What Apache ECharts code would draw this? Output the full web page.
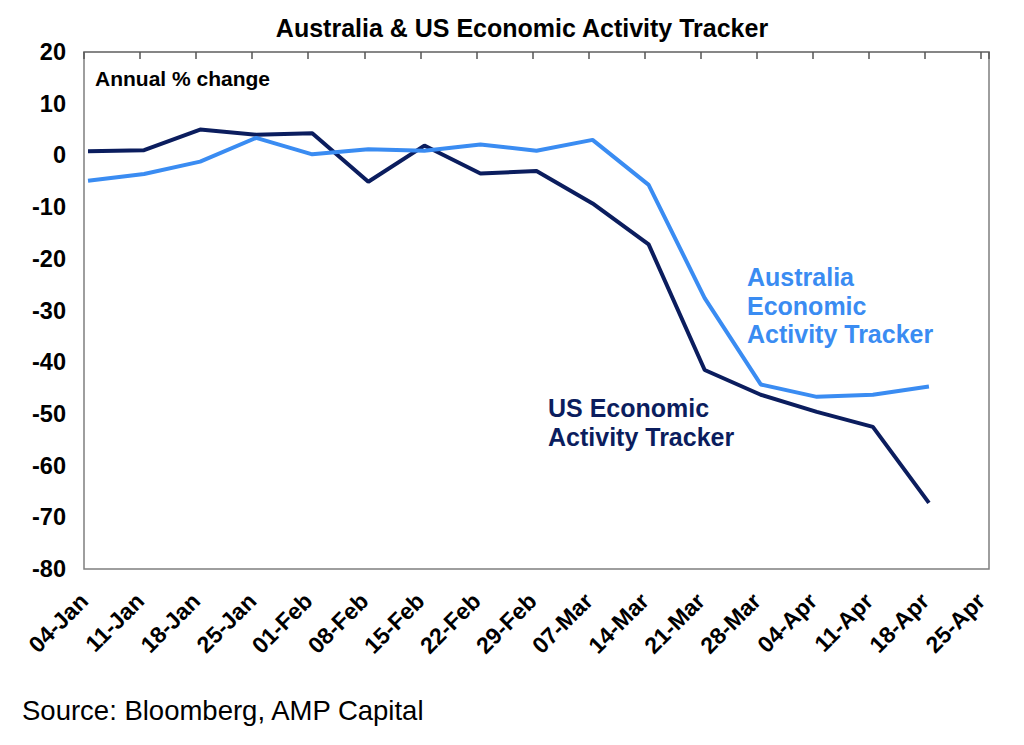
<!DOCTYPE html>
<html><head><meta charset="utf-8">
<script src="https://cdn.jsdelivr.net/npm/echarts@6/dist/echarts.min.js"></script>
<style>html,body{margin:0;padding:0;background:#fff}#c{width:1024px;height:745px}</style>
</head><body><div id="c"></div>
<script>
const tickLabels = ['04-Jan','11-Jan','18-Jan','25-Jan','01-Feb','08-Feb','15-Feb','22-Feb','29-Feb','07-Mar','14-Mar','21-Mar','28-Mar','04-Apr','11-Apr','18-Apr','25-Apr'];
const dates = ['2020-01-04','2020-01-11','2020-01-18','2020-01-25','2020-02-01','2020-02-08','2020-02-15','2020-02-22','2020-02-29','2020-03-07','2020-03-14','2020-03-21','2020-03-28','2020-04-04','2020-04-11','2020-04-18'];
const usValues = [0.8, 1.0, 5.0, 4.0, 4.3, -5.1, 1.9, -3.5, -3.0, -9.3, -17.2, -41.5, -46.3, -49.6, -52.5, -67.2];
const auValues = [-4.9, -3.6, -1.2, 3.4, 0.2, 1.2, 0.9, 2.1, 0.9, 3.0, -5.7, -27.6, -44.3, -46.7, -46.3, -44.7];
const yTicks = { min: -80, max: 20, step: 10 };
const axisStart = '2020-01-04';
const axisEnd = '2020-04-26';

const DAY = 86400000;
function dayOffset(d) { return (Date.parse(d) - Date.parse(axisStart)) / DAY; }
// Excel-style date axis: each point is drawn in the middle of its day
const usData = dates.map((d, i) => [dayOffset(d) + 0.5, usValues[i]]);
const auData = dates.map((d, i) => [dayOffset(d) + 0.5, auValues[i]]);
const xMax = dayOffset(axisEnd);

const FONT = '"Liberation Sans", Arial, sans-serif';
const NAVY = '#0b1d5e';
const BLUE = '#3a8cf2';

const chart = echarts.init(document.getElementById('c'), null, { renderer: 'svg' });
chart.setOption({
  animation: false,
  backgroundColor: '#fff',
  grid: { left: 84, right: 35, top: 52, bottom: 176, show: true, borderColor: '#7f7f7f', borderWidth: 1.5, backgroundColor: 'transparent' },
  xAxis: [
    { type: 'value', min: 0, max: xMax, interval: 7, position: 'bottom',
      axisLine: { show: false }, axisTick: { show: false }, splitLine: { show: false },
      axisLabel: { rotate: 45, margin: 28, fontSize: 23, fontWeight: 'bold', color: '#000', fontFamily: FONT,
        formatter: v => (v % 7 === 0 && tickLabels[v / 7]) ? tickLabels[v / 7] : '' } },
    { type: 'value', min: 0, max: xMax, interval: 7, position: 'top',
      axisLine: { show: true, onZero: true, lineStyle: { color: '#7f7f7f', width: 1.5 } },
      axisTick: { show: true, inside: true, length: 7, lineStyle: { color: '#555', width: 1.5 } },
      axisLabel: { show: false }, splitLine: { show: false } }
  ],
  yAxis: { type: 'value', min: yTicks.min, max: yTicks.max, interval: yTicks.step,
    axisLine: { show: false }, axisTick: { show: false }, splitLine: { show: false },
    axisLabel: { fontSize: 23.5, fontWeight: 'bold', color: '#000', margin: 18, fontFamily: FONT } },
  series: [
    { name: 'US Economic Activity Tracker', type: 'line', xAxisIndex: 0, data: usData, showSymbol: false,
      lineStyle: { color: NAVY, width: 4 }, itemStyle: { color: NAVY } },
    { name: 'Australia Economic Activity Tracker', type: 'line', xAxisIndex: 0, data: auData, showSymbol: false,
      lineStyle: { color: BLUE, width: 4 }, itemStyle: { color: BLUE } }
  ],
  graphic: [
    { type: 'text', x: 522, y: 28, style: { text: 'Australia & US Economic Activity Tracker', font: 'bold 25px ' + FONT, fill: '#000', textAlign: 'center', textVerticalAlign: 'middle' } },
    { type: 'text', x: 95, y: 78, style: { text: 'Annual % change', font: 'bold 21px ' + FONT, fill: '#000', textAlign: 'left', textVerticalAlign: 'middle' } },
    { type: 'text', x: 747, y: 263, style: { text: 'Australia\nEconomic\nActivity Tracker', font: 'bold 25px ' + FONT, lineHeight: 28.5, fill: BLUE, textAlign: 'left', textVerticalAlign: 'top' } },
    { type: 'text', x: 548, y: 394, style: { text: 'US Economic\nActivity Tracker', font: 'bold 25px ' + FONT, lineHeight: 28.5, fill: NAVY, textAlign: 'left', textVerticalAlign: 'top' } },
    { type: 'text', x: 22, y: 710, style: { text: 'Source: Bloomberg, AMP Capital', font: '27.5px ' + FONT, fill: '#000', textAlign: 'left', textVerticalAlign: 'middle' } }
  ]
});
</script></body></html>
